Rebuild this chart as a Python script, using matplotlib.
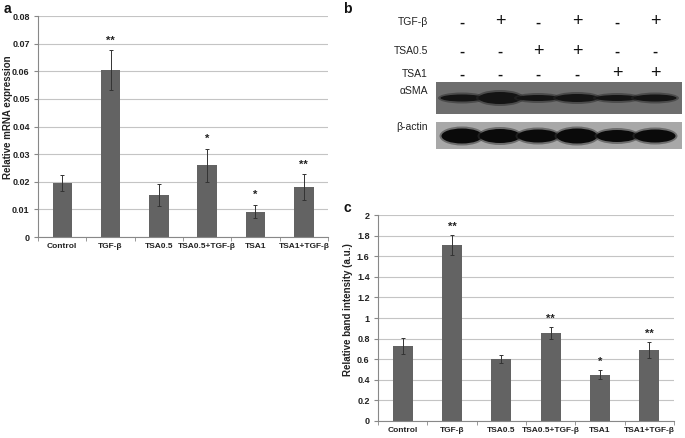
import matplotlib
matplotlib.use("Agg")
import matplotlib.pyplot as plt
import numpy as np
from matplotlib.patches import Rectangle, Ellipse

plt.rcParams['font.family'] = ['Liberation Sans', 'DejaVu Sans']

# ---- data ----
groups = ['Control', 'TGF-β', 'TSA0.5', 'TSA0.5+TGF-β', 'TSA1', 'TSA1+TGF-β']

mrna = [0.0195, 0.0605, 0.0152, 0.0260, 0.0092, 0.0180]
mrna_err = [0.0030, 0.0072, 0.0041, 0.0060, 0.0025, 0.0047]
mrna_sig = ['', '**', '', '*', '*', '**']

band = [0.73, 1.71, 0.60, 0.855, 0.45, 0.69]
band_err = [0.075, 0.10, 0.04, 0.06, 0.045, 0.08]
band_sig = ['', '**', '', '**', '*', '**']

# blot treatment table and band thickness (px) per lane
rows = ['TGF-β', 'TSA0.5', 'TSA1']
signs = [['-', '+', '-', '+', '-', '+'],
         ['-', '-', '+', '+', '-', '-'],
         ['-', '-', '-', '-', '+', '+']]
asma_h = [7, 12, 6, 8, 6, 7]
actin_h = [15, 14, 13, 15, 12, 13]

bar_col = '#636363'
grid_col = '#c4c4c4'
txt_col = '#222222'

fig = plt.figure(figsize=(6.85, 4.38), dpi=100)


def bar_panel(ax, vals, errs, sig, ymax, step, fmt, ylabel, off):
    x = np.arange(len(groups))
    ax.set_axisbelow(True)
    ax.yaxis.grid(True, color=grid_col, linewidth=0.8)
    ax.bar(x, vals, width=0.4, color=bar_col, zorder=2)
    ax.errorbar(x, vals, yerr=errs, fmt='none', ecolor='#333333',
                elinewidth=0.7, capsize=1.5, capthick=0.7, zorder=3)
    for i, s in enumerate(sig):
        if s:
            ax.text(x[i], vals[i] + errs[i] + off, s, ha='center', va='bottom',
                    fontsize=8, color=txt_col, fontweight='bold')
    ax.set_xlim(-0.5, len(groups) - 0.5)
    ax.set_ylim(0, ymax)
    ticks = np.arange(0, ymax + step / 2, step)
    ax.set_yticks(ticks)
    ax.set_yticklabels([fmt(t) for t in ticks])
    ax.set_xticks(x)
    ax.set_xticklabels(groups)
    ax.set_xticks(np.arange(-0.5, len(groups)), minor=True)
    ax.tick_params(axis='x', which='major', length=0, pad=4)
    ax.tick_params(axis='x', which='minor', length=3, color='#888888')
    ax.tick_params(axis='y', length=3, color='#888888', pad=3)
    for lab in ax.get_xticklabels():
        lab.set_fontweight('bold')
        lab.set_color(txt_col)
        lab.set_fontsize(6)
    for lab in ax.get_yticklabels():
        lab.set_fontweight('bold')
        lab.set_color(txt_col)
        lab.set_fontsize(6.5)
    for sp in ['top', 'right']:
        ax.spines[sp].set_visible(False)
    for sp in ['left', 'bottom']:
        ax.spines[sp].set_color('#888888')
        ax.spines[sp].set_linewidth(0.8)
    ax.set_ylabel(ylabel, fontsize=7, fontweight='bold', color=txt_col)


# ---- panel a ----
ax_a = fig.add_axes([38 / 685, 1 - 237 / 438, 290 / 685, 221 / 438])
bar_panel(ax_a, mrna, mrna_err, mrna_sig, 0.08, 0.01,
          lambda t: '0' if t == 0 else '%.2f' % t,
          'Relative mRNA expression', 0.0016)
ax_a.yaxis.set_label_coords(-0.085, 0.54)

# ---- panel c ----
ax_c = fig.add_axes([378 / 685, 1 - 421 / 438, 296 / 685, 206 / 438])
bar_panel(ax_c, band, band_err, band_sig, 2.0, 0.2,
          lambda t: '0' if t == 0 else ('%g' % round(t, 1)),
          'Relative band intensity (a.u.)', 0.03)
ax_c.yaxis.set_label_coords(-0.085, 0.54)

# ---- panel b (blot, pixel coordinates) ----
ax_b = fig.add_axes([340 / 685, 1 - 200 / 438, 345 / 685, 200 / 438])
ax_b.set_xlim(340, 685)
ax_b.set_ylim(200, 0)
ax_b.axis('off')

lanes = [462, 500, 538, 577, 617, 655]
row_y = [22, 51, 74]
for r, name in enumerate(rows):
    ax_b.text(428, row_y[r], name, ha='right', va='center', fontsize=7.5, color=txt_col)
    for j, s in enumerate(signs[r]):
        if s == '+':
            ax_b.text(lanes[j], row_y[r], '+', ha='center', va='center',
                      fontsize=13, color='#111111')
        else:
            ax_b.text(lanes[j], row_y[r] + 1, '-', ha='center', va='center',
                      fontsize=11, fontweight='bold', color='#111111')

ax_b.text(428, 91, 'αSMA', ha='right', va='center', fontsize=7.5, color=txt_col)
ax_b.text(428, 127, 'β-actin', ha='right', va='center', fontsize=7.5, color=txt_col)

# strips
ax_b.add_patch(Rectangle((436, 82), 246, 32, facecolor='#6e6e6e', edgecolor='none'))
ax_b.add_patch(Rectangle((436, 122), 246, 27, facecolor='#a8a8a8', edgecolor='none'))

for j, xc in enumerate(lanes):
    h = asma_h[j]
    ax_b.add_patch(Ellipse((xc, 98), 48, h + 4, facecolor='#2a2a2a', edgecolor='none', alpha=0.5))
    ax_b.add_patch(Ellipse((xc, 98), 43, h, facecolor='#141414', edgecolor='none'))
    h = actin_h[j]
    ax_b.add_patch(Ellipse((xc, 136), 45, h + 4, facecolor='#333333', edgecolor='none', alpha=0.5))
    ax_b.add_patch(Ellipse((xc, 136), 41, h, facecolor='#0a0a0a', edgecolor='none'))

# panel letters
fig.text(4 / 685, 1 - 9 / 438, 'a', fontsize=10, fontweight='bold', va='center', color='#111111')
fig.text(343 / 685, 1 - 9 / 438, 'b', fontsize=10, fontweight='bold', va='center', color='#111111')
fig.text(343 / 685, 1 - 208 / 438, 'c', fontsize=10, fontweight='bold', va='center', color='#111111')

fig.savefig('out.png', dpi=100)
